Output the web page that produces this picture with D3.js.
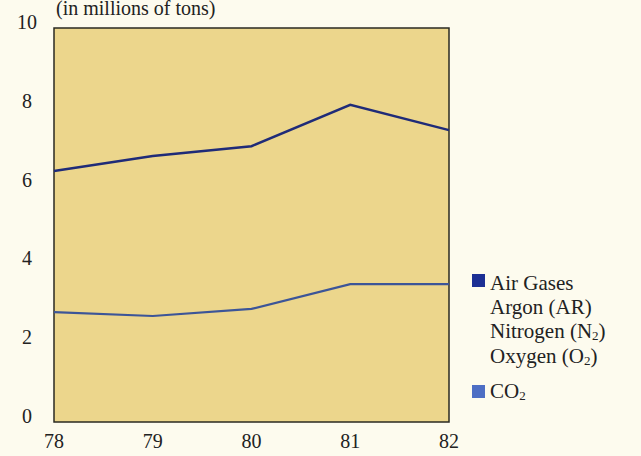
<!DOCTYPE html>
<html>
<head>
<meta charset="utf-8">
<script src="https://cdn.jsdelivr.net/npm/d3@7"></script>
<style>
  html, body { margin: 0; padding: 0; background: #fdfbee; }
  svg { display: block; }
  text { font-family: "Liberation Serif", "DejaVu Serif", serif; fill: #222; }
</style>
</head>
<body>
<svg id="chart" width="641" height="456"></svg>
<script>
// Production by year (millions of tons)
const years = ["78", "79", "80", "81", "82"];
const airGases = [6.37, 6.75, 7.0, 8.05, 7.41];
const co2 = [2.79, 2.69, 2.87, 3.5, 3.5];
const yTicks = [0, 2, 4, 6, 8, 10];

const svg = d3.select("#chart");
const margin = { left: 54, top: 28, right: 449, bottom: 422 };

const x = d3.scalePoint().domain(years).range([margin.left, margin.right]);
const y = d3.scaleLinear().domain([0, 10]).range([margin.bottom, margin.top]);

// plot panel
svg.append("rect")
  .attr("x", margin.left).attr("y", margin.top)
  .attr("width", margin.right - margin.left)
  .attr("height", margin.bottom - margin.top)
  .attr("fill", "#ecd68c")
  .attr("stroke", "#2a2a22")
  .attr("stroke-width", 1.5);

// y tick labels
svg.append("g").selectAll("text").data(yTicks).join("text")
  .attr("x", 27).attr("y", d => y(d) + 1)
  .attr("text-anchor", "middle")
  .attr("font-size", 20)
  .text(d => d);

// x tick labels
svg.append("g").selectAll("text").data(years).join("text")
  .attr("x", d => x(d)).attr("y", 448)
  .attr("text-anchor", "middle")
  .attr("font-size", 20)
  .text(d => d);

// unit caption
svg.append("text")
  .attr("x", 56).attr("y", 15)
  .attr("font-size", 20)
  .text("(in millions of tons)");

const line = d3.line().x((d, i) => x(years[i])).y(d => y(d));

svg.append("path").datum(co2)
  .attr("d", line).attr("fill", "none")
  .attr("stroke", "#3c5598").attr("stroke-width", 2.2);

svg.append("path").datum(airGases)
  .attr("d", line).attr("fill", "none")
  .attr("stroke", "#1f2b78").attr("stroke-width", 2.4);

// legend
const lg = svg.append("g");
lg.append("rect").attr("x", 472).attr("y", 274).attr("width", 13).attr("height", 13).attr("fill", "#1c2f94");
lg.append("rect").attr("x", 472).attr("y", 385).attr("width", 13).attr("height", 13).attr("fill", "#4d6ec4");

const legendLines = [
  { y: 290, parts: [["Air Gases", false]] },
  { y: 314, parts: [["Argon (AR)", false]] },
  { y: 338, parts: [["Nitrogen (N", false], ["2", true], [")", false]] },
  { y: 363, parts: [["Oxygen (O", false], ["2", true], [")", false]] },
  { y: 398, parts: [["CO", false], ["2", true]] }
];
legendLines.forEach(l => {
  const t = lg.append("text").attr("x", 490).attr("y", l.y).attr("font-size", 21);
  l.parts.forEach(([s, sub]) => {
    const ts = t.append("tspan").text(s);
    if (sub) ts.attr("font-size", 13).attr("dy", 2);
    else if (s === ")") ts.attr("dy", -2);
  });
});
</script>
</body>
</html>
